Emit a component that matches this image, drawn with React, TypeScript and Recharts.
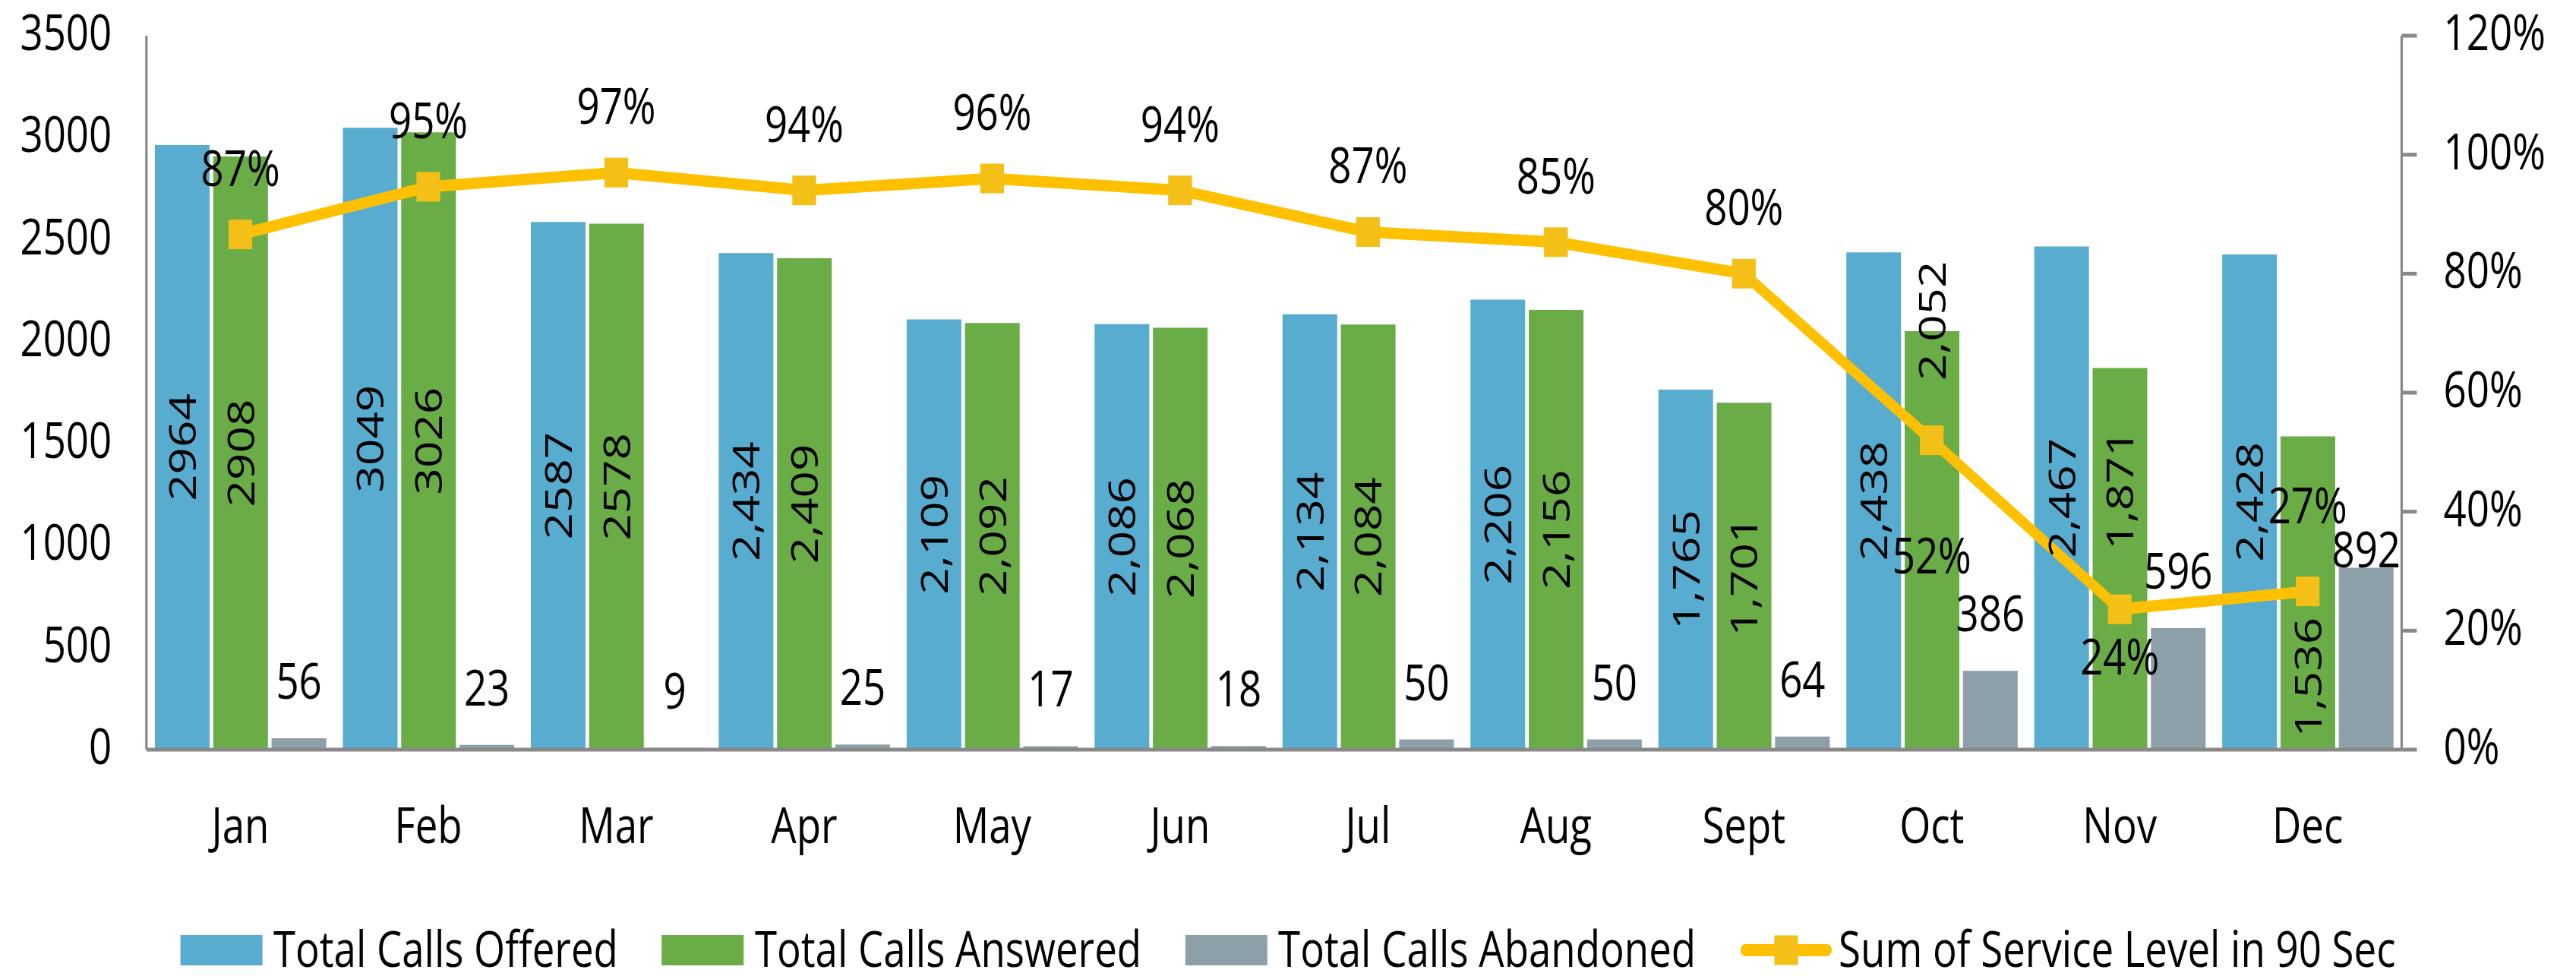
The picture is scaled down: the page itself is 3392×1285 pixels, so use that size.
import { ComposedChart, Bar, Line, XAxis, YAxis, LabelList } from "recharts";

const months = ["Jan", "Feb", "Mar", "Apr", "May", "Jun", "Jul", "Aug", "Sept", "Oct", "Nov", "Dec"];
const offered = [2964, 3049, 2587, 2434, 2109, 2086, 2134, 2206, 1765, 2438, 2467, 2428];
const answered = [2908, 3026, 2578, 2409, 2092, 2068, 2084, 2156, 1701, 2052, 1871, 1536];
const abandoned = [56, 23, 9, 25, 17, 18, 50, 50, 64, 386, 596, 892];
const serviceLevel = [0.866, 0.946, 0.97, 0.94, 0.96, 0.94, 0.87, 0.853, 0.8, 0.52, 0.236, 0.266];
const countTicks = [0, 500, 1000, 1500, 2000, 2500, 3000, 3500];
const percentTicks = [0, 0.2, 0.4, 0.6, 0.8, 1, 1.2];

const seriesNames = {
  offered: "Total Calls Offered",
  answered: "Total Calls Answered",
  abandoned: "Total Calls Abandoned",
  service: "Sum of Service Level in 90 Sec",
};

// the picture is squeezed sideways, so draw wide and squeeze it back
const SQUEEZE = 0.8;
const W = 3392 / SQUEEZE;
const H = 1285;
const FONT = "'Open Sans', sans-serif";
const FS = 66;
const AXIS = "#898989";
const BLUE = "#57ACD0";
const GREEN = "#6AAD46";
const GRAY = "#8DA0A9";
const GOLD = "#FFC000";
const MARKER = "#F4BF17";

// hand-placed labels in the original, nudged off the line (px)
const answeredLabelNudge: Record<string, number> = { Oct: -289, Nov: -91, Dec: 111 };
const serviceLabelOffset: Record<string, number> = { Oct: 151, Nov: 62, Dec: -114 };
const abandonedLabelLift: Record<string, number> = { Dec: 0 };

const data = months.map((month, i) => ({
  month,
  offered: offered[i],
  answered: answered[i],
  abandoned: abandoned[i],
  service: serviceLevel[i],
}));

const fmtCount = (v: number, i: number) => (i < 3 ? String(v) : v.toLocaleString("en-US"));

const LeftTick = ({ x, y, payload }: any) => (
  <text x={x} y={y + 19} textAnchor="end" fontSize={FS} fontFamily={FONT} fill="#000">
    {payload.value}
  </text>
);

const RightTick = ({ x, y, payload }: any) => (
  <text x={x} y={y + 19} textAnchor="start" fontSize={FS} fontFamily={FONT} fill="#000">
    {`${Math.round(payload.value * 100)}%`}
  </text>
);

const MonthTick = ({ x, y, payload }: any) => (
  <text x={x} y={y + 123} textAnchor="middle" fontSize={FS} fontFamily={FONT} fill="#000">
    {payload.value}
  </text>
);

const makeRotatedLabel = (nudge: Record<string, number>) => (props: any) => {
  const { x, y, width, height, value, index } = props;
  const cx = x + width / 2;
  const cy = y + height / 2 + (nudge[months[index]] ?? 0);
  return (
    <text
      transform={`translate(${cx},${cy}) rotate(-90)`}
      textAnchor="middle"
      dy="0.36em"
      fontSize={62}
      fontFamily={FONT}
      fill="#000"
    >
      {fmtCount(value, index)}
    </text>
  );
};

const OfferedLabel = makeRotatedLabel({});
const AnsweredLabel = makeRotatedLabel(answeredLabelNudge);

const TopLabel = (props: any) => {
  const { x, y, width, value, index } = props;
  const lift = abandonedLabelLift[months[index]] ?? 52;
  return (
    <text x={x + width / 2} y={y - lift} textAnchor="middle" fontSize={FS} fontFamily={FONT} fill="#000">
      {value}
    </text>
  );
};

const PctLabel = (props: any) => {
  const { x, y, value, index } = props;
  const offset = serviceLabelOffset[months[index]] ?? -88;
  return (
    <text x={x} y={y + offset + 24} textAnchor="middle" fontSize={FS} fontFamily={FONT} fill="#000">
      {`${Math.round(value * 100)}%`}
    </text>
  );
};

const SquareDot = (props: any) => {
  const { cx, cy, index } = props;
  return <rect key={`dot-${index}`} x={cx - 19.5} y={cy - 19.5} width={39} height={39} fill={MARKER} />;
};

const legendItems = [
  { name: seriesNames.offered, color: BLUE, kind: "bar" },
  { name: seriesNames.answered, color: GREEN, kind: "bar" },
  { name: seriesNames.abandoned, color: GRAY, kind: "bar" },
  { name: seriesNames.service, color: GOLD, kind: "line" },
];

function LegendRow() {
  return (
    <div
      style={{
        position: "absolute",
        left: 0,
        top: 1202,
        width: W,
        display: "flex",
        justifyContent: "center",
        alignItems: "center",
        gap: 72,
        fontFamily: FONT,
        fontSize: FS,
        color: "#000",
        whiteSpace: "nowrap",
      }}
    >
      {legendItems.map((item) => (
        <div key={item.name} style={{ display: "flex", alignItems: "center" }}>
          {item.kind === "bar" ? (
            <div style={{ width: 135, height: 40, background: item.color, marginRight: 18, marginTop: 8 }} />
          ) : (
            <svg width={154} height={40} style={{ marginRight: 9, marginTop: 8 }}>
              <line x1={10} y1={20} x2={144} y2={20} stroke={GOLD} strokeWidth={16} strokeLinecap="round" />
              <rect x={57.5} y={0.5} width={39} height={39} fill={MARKER} />
            </svg>
          )}
          <span>{item.name}</span>
        </div>
      ))}
    </div>
  );
}

export default function App() {
  return (
    <div
      style={{
        position: "absolute",
        left: 0,
        top: 0,
        width: 3392,
        height: H,
        overflow: "hidden",
        background: "#fff",
      }}
    >
      <div
        style={{
          position: "relative",
          width: W,
          height: H,
          transform: `scaleX(${SQUEEZE})`,
          transformOrigin: "0 0",
        }}
      >
        <ComposedChart
          width={W}
          height={H}
          data={data}
          margin={{ top: 47, right: 0, bottom: 178, left: 0 }}
          barCategoryGap={14}
          barGap={6}
        >
          <XAxis
            dataKey="month"
            height={120}
            axisLine={{ stroke: AXIS, strokeWidth: 5 }}
            tickLine={false}
            tickSize={0}
            tickMargin={0}
            tick={<MonthTick />}
            interval={0}
          />
          <YAxis
            yAxisId="count"
            orientation="left"
            width={241}
            domain={[0, 3500]}
            ticks={countTicks}
            axisLine={{ stroke: AXIS, strokeWidth: 4 }}
            tickLine={false}
            tickSize={0}
            tickMargin={57}
            tick={<LeftTick />}
          />
          <YAxis
            yAxisId="pct"
            orientation="right"
            width={287}
            domain={[0, 1.2]}
            ticks={percentTicks}
            axisLine={{ stroke: AXIS, strokeWidth: 4 }}
            tickLine={{ stroke: AXIS, strokeWidth: 5 }}
            tickSize={25}
            tickMargin={44}
            tick={<RightTick />}
          />
          <Bar yAxisId="count" dataKey="offered" name={seriesNames.offered} fill={BLUE} isAnimationActive={false}>
            <LabelList dataKey="offered" content={<OfferedLabel />} />
          </Bar>
          <Bar yAxisId="count" dataKey="answered" name={seriesNames.answered} fill={GREEN} isAnimationActive={false}>
            <LabelList dataKey="answered" content={<AnsweredLabel />} />
          </Bar>
          <Bar yAxisId="count" dataKey="abandoned" name={seriesNames.abandoned} fill={GRAY} isAnimationActive={false}>
            <LabelList dataKey="abandoned" content={<TopLabel />} />
          </Bar>
          <Line
            yAxisId="pct"
            dataKey="service"
            name={seriesNames.service}
            stroke={GOLD}
            strokeWidth={15}
            dot={SquareDot}
            activeDot={false}
            isAnimationActive={false}
          >
            <LabelList dataKey="service" content={<PctLabel />} />
          </Line>
        </ComposedChart>
        <LegendRow />
      </div>
    </div>
  );
}
